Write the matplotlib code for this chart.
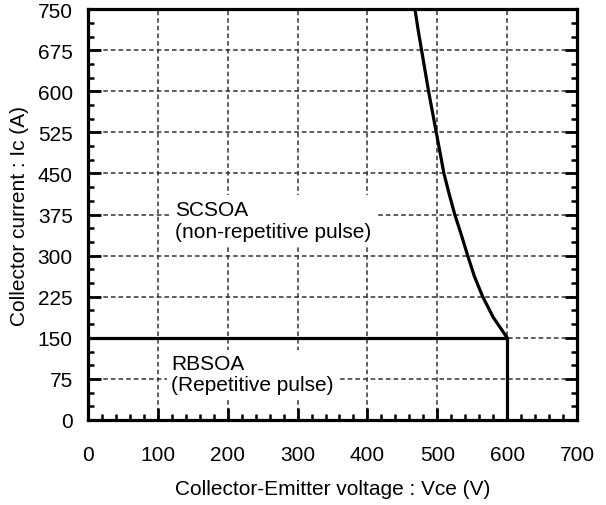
import numpy as np
import matplotlib.pyplot as plt
from matplotlib.ticker import MultipleLocator

plt.rcParams['font.family'] = ['Liberation Sans', 'DejaVu Sans']

# SCSOA boundary
scsoa_v = [468, 472.5, 477.5, 482.5, 487.5, 493, 498.5, 504, 509.5, 517, 525,
           534.5, 543.5, 553, 565, 580, 600]
scsoa_i = [750, 712.5, 675, 637.5, 600, 562.5, 525, 487.5, 450, 412.5, 375,
           337.5, 300, 262.5, 225, 187.5, 150]

# RBSOA boundary
rbsoa_v = [0, 600, 600]
rbsoa_i = [150, 150, 0]

fig = plt.figure(figsize=(6.06, 5.06), dpi=100)
ax = fig.add_axes([0.1452, 0.168, 0.807, 0.812])

ax.plot(scsoa_v, scsoa_i, color='black', lw=2.3, zorder=5, solid_joinstyle='round')
ax.plot(rbsoa_v, rbsoa_i, color='black', lw=2.3, zorder=5, solid_capstyle='butt')

ax.set_xlim(0, 700)
ax.set_ylim(0, 750)
ax.xaxis.set_major_locator(MultipleLocator(100))
ax.xaxis.set_minor_locator(MultipleLocator(20))
ax.yaxis.set_major_locator(MultipleLocator(75))
ax.yaxis.set_minor_locator(MultipleLocator(25))

ax.grid(True, which='major', color='#333333', linestyle=(0, (3, 2)), lw=1.1)
ax.set_axisbelow(True)

ax.tick_params(which='both', direction='in', top=False, right=True, labelsize=15, width=2)
ax.tick_params(which='major', length=9)
ax.tick_params(which='minor', length=4.5, width=1.8)
ax.tick_params(axis='x', which='major', pad=18)
ax.tick_params(axis='y', which='major', pad=11)
for sp in ax.spines.values():
    sp.set_linewidth(2.3)

ax.text(124, 364, 'SCSOA\n(non-repetitive pulse)', fontsize=15, va='center', ha='left',
        linespacing=1.15, zorder=3,
        bbox=dict(facecolor='white', edgecolor='none', pad=4))
ax.text(119, 84, 'RBSOA\n(Repetitive pulse)', fontsize=15, va='center', ha='left',
        linespacing=1.15, zorder=3,
        bbox=dict(facecolor='white', edgecolor='none', pad=3))

ax.set_xlabel('Collector-Emitter voltage : Vce (V)', fontsize=15, labelpad=11)
ax.set_ylabel('Collector current : Ic (A)', fontsize=15, labelpad=6)

fig.savefig('out.png', dpi=100)
